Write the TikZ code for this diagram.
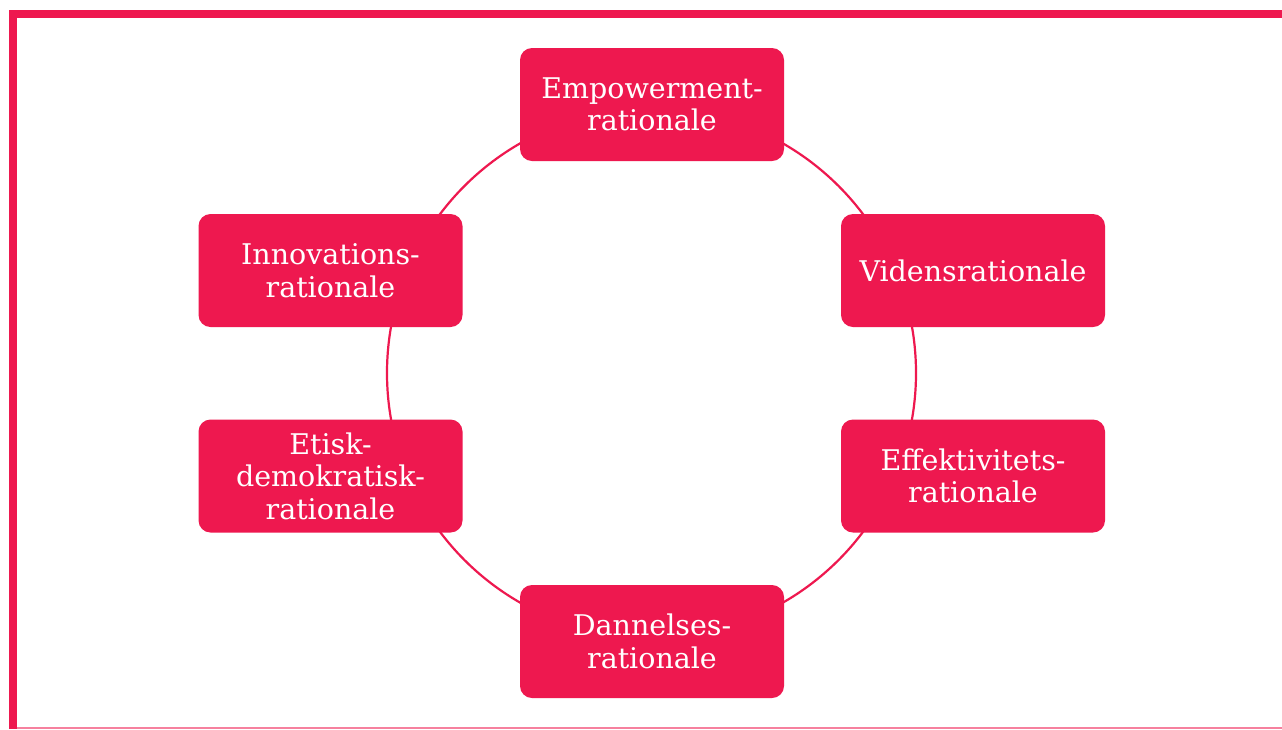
\documentclass[tikz,border=0pt]{standalone}
\usepackage{fontspec}
\setmainfont{DejaVu Serif}
\definecolor{brand}{RGB}{238,24,79}
\begin{document}
\begin{tikzpicture}[x=1pt,y=-1pt,
  rbox/.style={fill=brand,rounded corners=12pt,minimum width=264pt,minimum height=113pt,
    text=white,align=center,inner sep=0pt,font=\fontsize{28.5}{32.5}\selectfont}]
\useasboundingbox (0,0) rectangle (1282,729);
\fill[white] (0,0) rectangle (1282,729);
% frame
\fill[brand] (9,10) rectangle (1282,18);
\fill[brand] (9,10) rectangle (17,729);
\draw[brand!55,line width=1.5pt] (17,728) -- (1282,728);
% ring
\draw[brand,line width=2.2pt] (651.5,373) circle (264.5);
% boxes
\node[rbox] (emp) at (652,104.5) {Empowerment-\\rationale};
\node[rbox] (vid) at (973,270.5) {Vidensrationale};
\node[rbox] (inn) at (330.5,270.5) {Innovations-\\rationale};
\node[rbox] (eti) at (330.5,476) {Etisk-\\demokratisk-\\rationale};
\node[rbox] (eff) at (973,476) {Effektivitets-\\rationale};
\node[rbox] (dan) at (652,641.5) {Dannelses-\\rationale};
\end{tikzpicture}
\end{document}
